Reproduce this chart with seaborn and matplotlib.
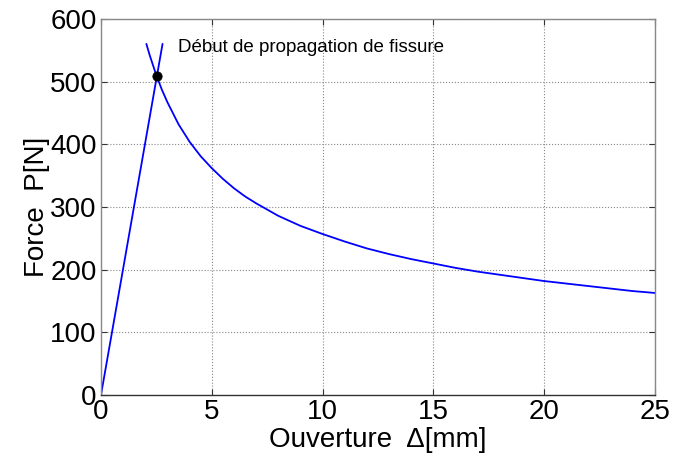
import matplotlib
matplotlib.use("Agg")
import matplotlib.pyplot as plt
import pandas as pd
import seaborn as sns

# loading branch (linear)
delta_lin = [0.0, 2.78]
force_lin = [0.0, 560.0]

# propagation branch, values
delta_prop = [2.05, 2.2, 2.35, 2.5, 2.75, 3.0, 3.5, 4.0, 4.5, 5.0, 5.5, 6.0, 6.5, 7.0,
              8.0, 9.0, 10.0, 11.0, 12.0, 13.0, 14.0, 15.0, 16.0, 17.0, 18.0, 19.0,
              20.0, 21.0, 22.0, 23.0, 24.0, 25.0]
force_prop = [560, 542, 526, 510, 487, 467, 432, 404, 381, 362, 345, 330, 317, 306,
              286, 270, 257, 245, 234, 225, 217, 210, 203, 197, 192, 187,
              182, 178, 174, 170, 166, 163]

# crack onset point
onset_delta = [2.53]
onset_force = [509]
onset_label = "Début de propagation de fissure"

sns.set_style("ticks")
plt.rcParams["font.family"] = ["Liberation Sans", "DejaVu Sans"]
plt.rcParams["text.color"] = "black"
plt.rcParams["axes.labelcolor"] = "black"
plt.rcParams["xtick.color"] = "black"
plt.rcParams["ytick.color"] = "black"

fig = plt.figure(figsize=(6.73, 4.59), dpi=100)
ax = fig.add_axes([0.150, 0.139, 0.823, 0.820])

lin = pd.DataFrame({"delta": delta_lin, "force": force_lin})
prop = pd.DataFrame({"delta": delta_prop, "force": force_prop})

sns.lineplot(data=lin, x="delta", y="force", ax=ax, color="#0000ff", lw=1.3,
             sort=False, estimator=None)
sns.lineplot(data=prop, x="delta", y="force", ax=ax, color="#0000ff", lw=1.3,
             sort=False, estimator=None)
sns.scatterplot(x=onset_delta, y=onset_force, ax=ax, color="black", s=45,
                edgecolor="black", zorder=5)
ax.text(3.5, 555, onset_label, fontsize=13.5, va="center", ha="left")

ax.set_xlim(0, 25)
ax.set_ylim(0, 600)
ax.set_xticks([0, 5, 10, 15, 20, 25])
ax.set_yticks([0, 100, 200, 300, 400, 500, 600])
ax.grid(True, linestyle=":", color="#888888", lw=0.8)
ax.tick_params(direction="in", labelsize=20, length=4, top=True, right=True,
               color="#333333", pad=3)
for s in ax.spines.values():
    s.set_color("#888888")
    s.set_linewidth(1.0)
ax.spines["bottom"].set_color("#333333")
ax.set_xlabel("Ouverture  Δ[mm]", fontsize=20, labelpad=1)
ax.set_ylabel("Force  P[N]", fontsize=20, labelpad=0)

fig.savefig("out.png", dpi=100)
